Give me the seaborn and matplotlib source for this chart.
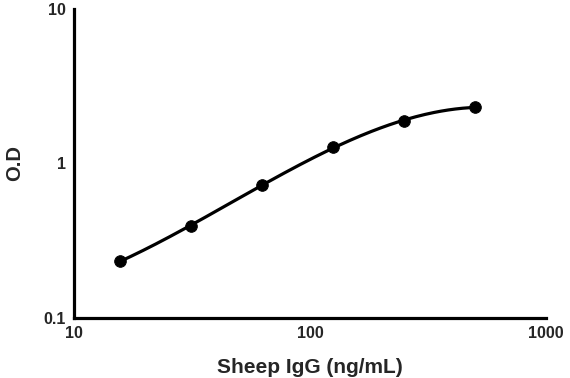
import numpy as np
import pandas as pd
import matplotlib
matplotlib.use("Agg")
import matplotlib.pyplot as plt
import seaborn as sns
from matplotlib.ticker import LogLocator, NullFormatter, FixedLocator, FixedFormatter

# standard curve readings
conc = [15.625, 31.25, 62.5, 125, 250, 500]
od = [0.233, 0.392, 0.73, 1.27, 1.88, 2.32]

x_ticks = [10, 100, 1000]
x_tick_labels = ["10", "100", "1000"]
y_ticks = [0.1, 1, 10]
y_tick_labels = ["0.1", "1", "10"]

sns.set_style("white")
plt.rcParams['font.family'] = ['Liberation Sans', 'DejaVu Sans']

df = pd.DataFrame({"conc": conc, "od": od})

# smooth fitted curve in log-log space (cubic fit of the points)
coef = np.polyfit(np.log10(df["conc"]), np.log10(df["od"]), 3)
lx = np.linspace(np.log10(conc[0]), np.log10(conc[-1]), 200)
fit = pd.DataFrame({"conc": 10 ** lx, "od": 10 ** np.polyval(coef, lx)})

fig = plt.figure(figsize=(5.7, 3.78), dpi=100)
ax = fig.add_axes([0.130, 0.159, 0.828, 0.817])

sns.lineplot(data=fit, x="conc", y="od", ax=ax, color="black", linewidth=2.3)
sns.scatterplot(data=df, x="conc", y="od", ax=ax, color="black", s=70,
                edgecolor="black", zorder=3)

ax.set_xscale("log")
ax.set_yscale("log")
ax.set_xlim(10, 1000)
ax.set_ylim(0.1, 10)

ax.xaxis.set_major_locator(FixedLocator(x_ticks))
ax.xaxis.set_major_formatter(FixedFormatter(x_tick_labels))
ax.yaxis.set_major_locator(FixedLocator(y_ticks))
ax.yaxis.set_major_formatter(FixedFormatter(y_tick_labels))
ax.xaxis.set_minor_locator(LogLocator(base=10, subs=np.arange(2, 10)))
ax.yaxis.set_minor_locator(LogLocator(base=10, subs=np.arange(2, 10)))
ax.xaxis.set_minor_formatter(NullFormatter())
ax.yaxis.set_minor_formatter(NullFormatter())

for s in ["top", "right"]:
    ax.spines[s].set_visible(False)
for s in ["left", "bottom"]:
    ax.spines[s].set_linewidth(2.3)
    ax.spines[s].set_color("black")

ax.tick_params(which="major", direction="out", length=3, width=2.3, labelsize=11.5, pad=3)
ax.tick_params(which="minor", direction="out", length=1.5, width=1.5)
for lab in ax.get_xticklabels() + ax.get_yticklabels():
    lab.set_fontweight("bold")

ax.set_xlabel("Sheep IgG (ng/mL)", fontsize=15, fontweight="bold", labelpad=12)
ax.set_ylabel("O.D", fontsize=14.5, fontweight="bold", labelpad=14)

fig.savefig("out.png", dpi=100)
